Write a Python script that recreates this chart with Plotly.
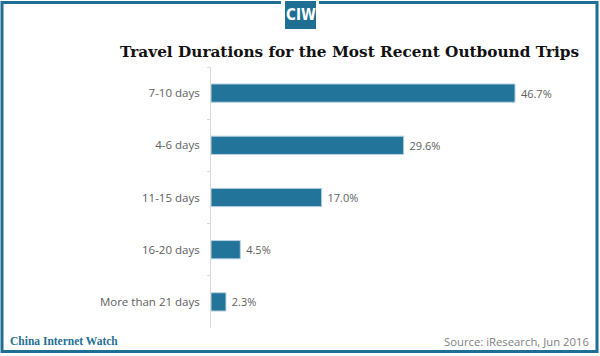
import plotly.graph_objects as go

categories = ["7-10 days", "4-6 days", "11-15 days", "16-20 days", "More than 21 days"]
values = [46.7, 29.6, 17.0, 4.5, 2.3]

W, H = 600, 356
L, R, T, B = 211, 20, 67, 28
PW, PH = W - L - R, H - T - B
PX_PER_UNIT = 6.51

def px(x):
    return (x - L) / PW

def py(y):
    return (H - B - y) / PH

BLUE = "#22749b"
FRAME = "#1f6f95"
GRAY = "#606060"

fig = go.Figure(go.Bar(
    x=values, y=categories, orientation="h",
    marker=dict(color=BLUE, line=dict(color="#b9d3e0", width=1)),
    text=[f" {v:.1f}%" for v in values], textposition="outside",
    textfont=dict(family="Open Sans", size=11, color=GRAY),
    cliponaxis=False, width=0.35, hoverinfo="skip",
))

fig.update_layout(
    width=W, height=H, margin=dict(l=L, r=R, t=T, b=B),
    paper_bgcolor="white", plot_bgcolor="white", showlegend=False,
    xaxis=dict(range=[0, PW / PX_PER_UNIT], visible=False, fixedrange=True),
    yaxis=dict(categoryorder="array", categoryarray=categories, autorange="reversed",
               showline=True, linecolor="#d9d9d9", linewidth=1,
               ticks="outside", tickson="boundaries", ticklen=3, tickcolor="#d9d9d9",
               tickfont=dict(family="Open Sans", size=11.5, color=GRAY),
               ticklabelstandoff=8, showgrid=False, fixedrange=True),
    shapes=[
        dict(type="rect", xref="paper", yref="paper", x0=px(2), x1=px(597), y0=py(2.5), y1=py(351.5),
             line=dict(color=FRAME, width=3), fillcolor="rgba(0,0,0,0)", layer="above"),
        dict(type="rect", xref="paper", yref="paper", x0=px(281), x1=px(319), y0=py(0), y1=py(8),
             line=dict(width=0), fillcolor="white", layer="above"),
        dict(type="rect", xref="paper", yref="paper", x0=px(285), x1=px(316), y0=py(1), y1=py(29),
             line=dict(width=0), fillcolor=FRAME, layer="above"),
    ],
    annotations=[
        dict(text="<b>CIW</b>", xref="paper", yref="paper", x=px(300.5), y=py(15),
             showarrow=False, xanchor="center", yanchor="middle",
             font=dict(family="DejaVu Sans Condensed, Liberation Sans Narrow", size=15, color="white")),
        dict(text="<b>Travel Durations for the Most Recent Outbound Trips</b>", xref="paper", yref="paper",
             x=px(349), y=py(52), showarrow=False, xanchor="center", yanchor="middle",
             font=dict(family="DejaVu Serif, serif", size=15.3, color="#111111")),
        dict(text="<b>China Internet Watch</b>", xref="paper", yref="paper",
             x=px(8), y=py(341), showarrow=False, xanchor="left", yanchor="middle",
             font=dict(family="Liberation Serif, serif", size=11.5, color=FRAME)),
        dict(text="Source: iResearch, Jun 2016", xref="paper", yref="paper",
             x=px(591), y=py(341), showarrow=False, xanchor="right", yanchor="middle",
             font=dict(family="Open Sans", size=11.3, color="#7f7f7f")),
    ],
)

fig.write_html("out.html", config={"displayModeBar": False},
               post_script="document.body.style.margin='0';document.body.style.overflow='hidden';")
